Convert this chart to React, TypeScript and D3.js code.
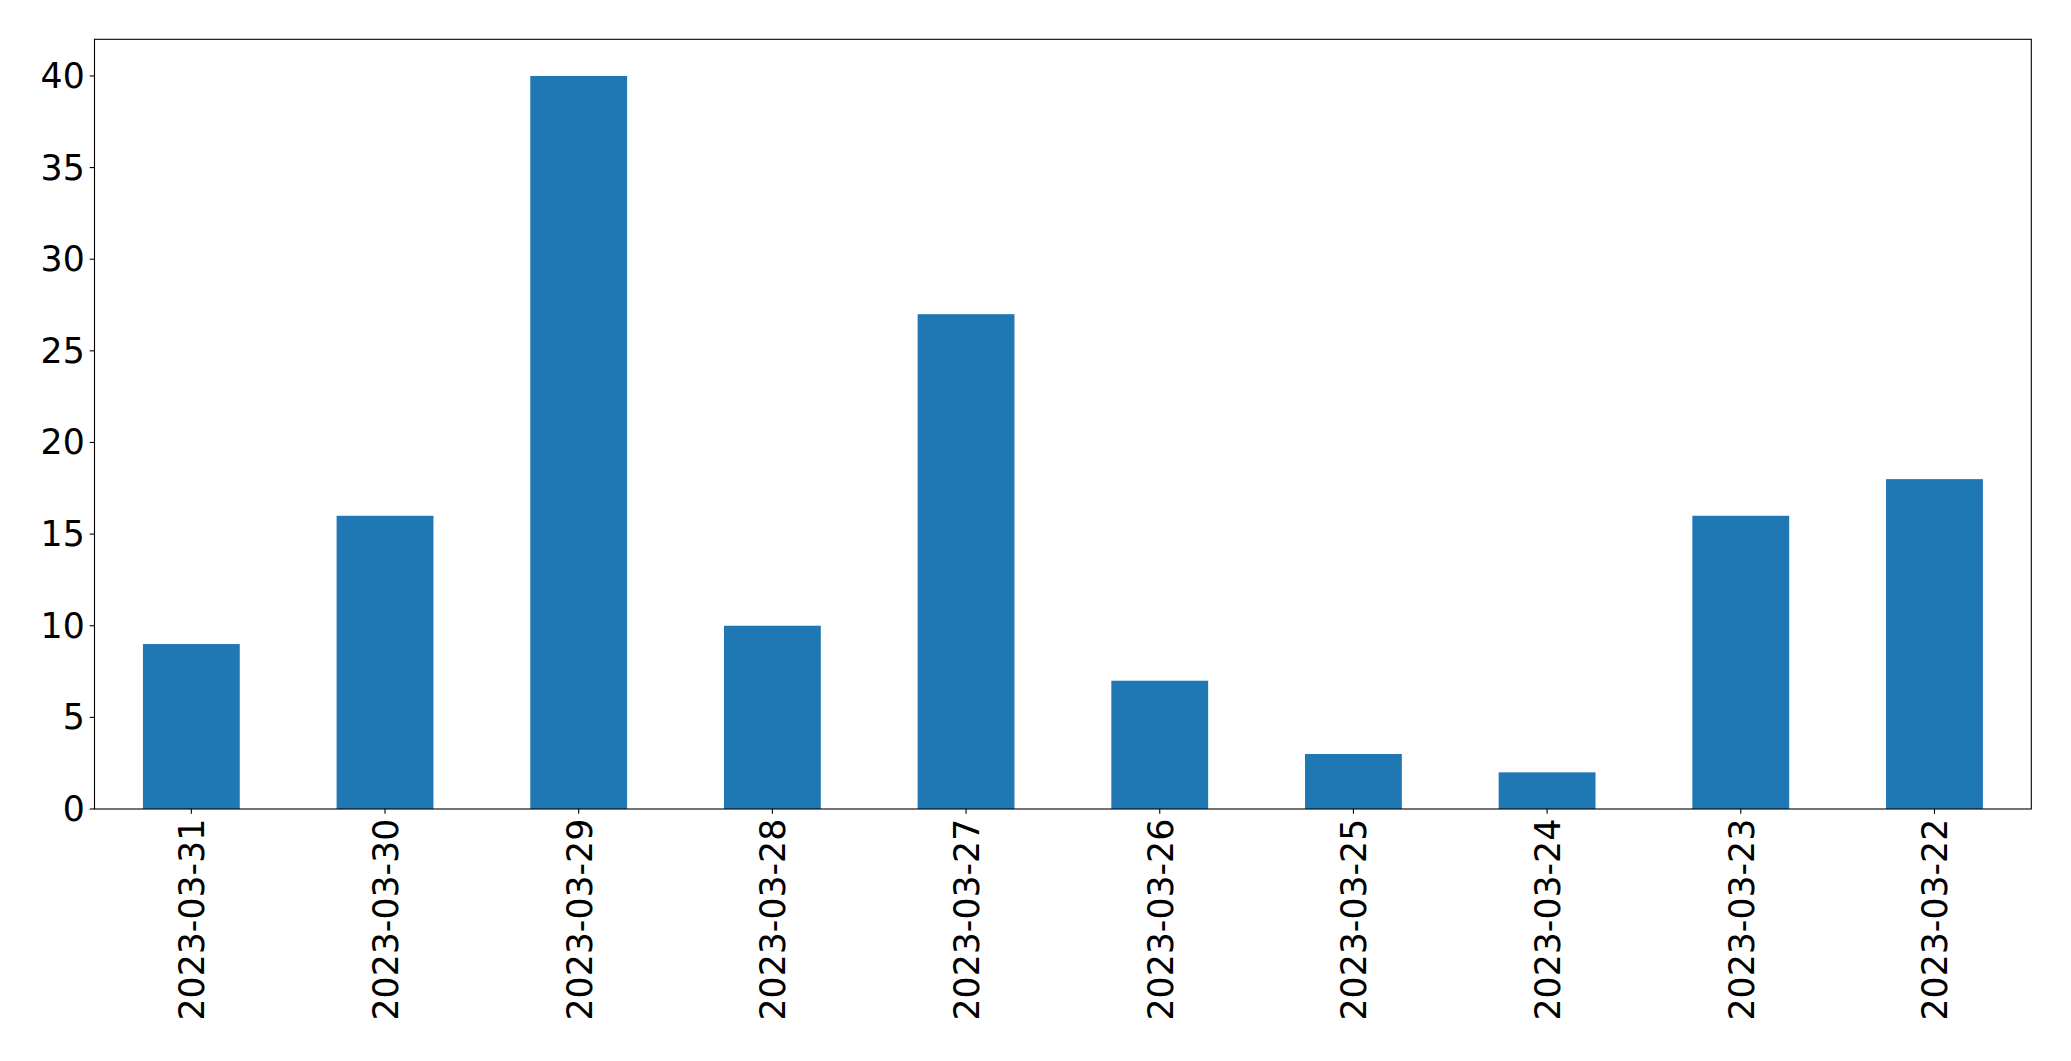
import React from "react";
import * as d3 from "d3";

const categories = ["2023-03-31", "2023-03-30", "2023-03-29", "2023-03-28", "2023-03-27", "2023-03-26", "2023-03-25", "2023-03-24", "2023-03-23", "2023-03-22"];
const values = [9, 16, 40, 10, 27, 7, 3, 2, 16, 18];
const yTicks = [0, 5, 10, 15, 20, 25, 30, 35, 40];

const W = 2071;
const H = 1061;
const left = 94.5;
const right = 2031.3;
const top = 39.3;
const bottom = 809;
const fontSize = 34.72;
const tickLen = 4.86;
const pad = 4.86;

export default function App() {
  const x = d3.scaleLinear().domain([-0.5, categories.length - 0.5]).range([left, right]);
  const y = d3.scaleLinear().domain([0, 42]).range([bottom, top]);
  const barW = x(0.5) - x(0);

  return (
    <svg
      width={W}
      height={H}
      style={{ position: "absolute", left: 0, top: 0, background: "#fff" }}
      fontFamily="'DejaVu Sans', sans-serif"
    >
      <rect x={0} y={0} width={W} height={H} fill="#fff" />
      {values.map((v, i) => (
        <rect
          key={i}
          x={x(i) - barW / 2}
          y={y(v)}
          width={barW}
          height={y(0) - y(v)}
          fill="#1f77b4"
        />
      ))}
      <rect
        x={left}
        y={top}
        width={right - left}
        height={bottom - top}
        fill="none"
        stroke="#000"
        strokeWidth={1.1}
      />
      {yTicks.map((t) => (
        <g key={t}>
          <line x1={left - tickLen} x2={left} y1={y(t)} y2={y(t)} stroke="#000" strokeWidth={1.1} />
          <text
            x={left - tickLen - pad}
            y={y(t)}
            textAnchor="end"
            dominantBaseline="central"
            fontSize={fontSize}
            fill="#000"
          >
            {t}
          </text>
        </g>
      ))}
      {categories.map((c, i) => (
        <g key={c}>
          <line x1={x(i)} x2={x(i)} y1={bottom} y2={bottom + tickLen} stroke="#000" strokeWidth={1.1} />
          <text
            transform={`translate(${x(i) + 1},${bottom + tickLen + pad}) rotate(-90)`}
            textAnchor="end"
            dominantBaseline="central"
            fontSize={fontSize}
            fill="#000"
          >
            {c}
          </text>
        </g>
      ))}
    </svg>
  );
}
